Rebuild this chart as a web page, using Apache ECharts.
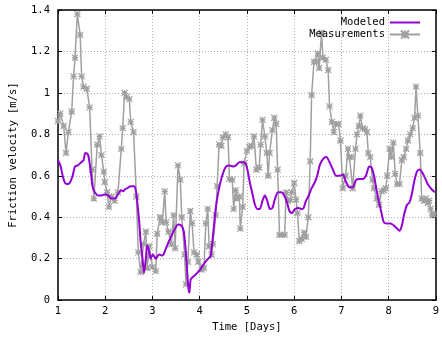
<!DOCTYPE html>
<html><head><meta charset="utf-8">
<script src="https://cdn.jsdelivr.net/npm/echarts@6/dist/echarts.min.js"></script>
<style>html,body{margin:0;padding:0;background:#fff}#c{width:442px;height:338px}</style>
</head><body><div id="c"></div>
<script>
const measX = [1.0,1.05,1.12,1.17,1.22,1.29,1.33,1.36,1.41,1.47,1.50,1.54,1.61,1.67,1.72,1.76,1.83,1.88,1.92,1.97,1.99,2.04,2.08,2.13,2.20,2.27,2.34,2.37,2.41,2.45,2.51,2.54,2.60,2.66,2.70,2.75,2.81,2.86,2.89,2.93,3.00,3.07,3.10,3.16,3.21,3.26,3.29,3.34,3.40,3.45,3.48,3.54,3.59,3.62,3.68,3.71,3.75,3.80,3.84,3.88,3.94,3.97,4.04,4.09,4.13,4.17,4.20,4.25,4.28,4.34,4.37,4.41,4.46,4.49,4.55,4.60,4.63,4.69,4.72,4.76,4.79,4.84,4.86,4.91,4.94,5.00,5.05,5.10,5.15,5.20,5.26,5.29,5.33,5.38,5.42,5.45,5.48,5.54,5.58,5.62,5.65,5.69,5.74,5.80,5.83,5.87,5.92,5.95,6.00,6.04,6.07,6.11,6.16,6.21,6.25,6.30,6.34,6.37,6.42,6.46,6.50,6.53,6.58,6.61,6.67,6.72,6.75,6.80,6.84,6.89,6.94,6.98,7.03,7.09,7.14,7.17,7.21,7.24,7.30,7.33,7.37,7.40,7.45,7.50,7.54,7.57,7.61,7.66,7.69,7.75,7.80,7.85,7.90,7.94,7.97,8.02,8.06,8.10,8.14,8.18,8.23,8.28,8.32,8.37,8.41,8.46,8.51,8.55,8.58,8.62,8.67,8.70,8.75,8.79,8.83,8.86,8.89,8.92,8.96];
const measY = [0.864,0.90,0.84,0.71,0.81,0.91,1.08,1.17,1.38,1.28,1.08,1.03,1.02,0.93,0.63,0.49,0.75,0.79,0.70,0.62,0.57,0.52,0.45,0.50,0.48,0.52,0.73,0.83,1.00,0.98,0.97,0.86,0.81,0.50,0.23,0.135,0.27,0.33,0.155,0.26,0.16,0.14,0.32,0.40,0.375,0.525,0.375,0.33,0.27,0.41,0.25,0.65,0.58,0.40,0.22,0.076,0.185,0.43,0.37,0.23,0.22,0.185,0.147,0.155,0.37,0.44,0.26,0.22,0.27,0.41,0.55,0.75,0.745,0.785,0.80,0.785,0.585,0.58,0.44,0.53,0.49,0.50,0.345,0.45,0.66,0.72,0.74,0.745,0.79,0.63,0.64,0.75,0.87,0.79,0.71,0.60,0.71,0.82,0.88,0.85,0.63,0.315,0.315,0.315,0.52,0.48,0.485,0.52,0.565,0.485,0.42,0.285,0.295,0.325,0.305,0.40,0.67,0.99,1.15,1.15,1.19,1.12,1.29,1.17,1.16,1.11,0.935,0.86,0.81,0.85,0.85,0.77,0.54,0.60,0.73,0.69,0.69,0.54,0.73,0.80,0.84,0.89,0.83,0.825,0.81,0.71,0.69,0.58,0.54,0.49,0.46,0.525,0.53,0.54,0.60,0.73,0.69,0.76,0.61,0.56,0.56,0.675,0.69,0.73,0.77,0.80,0.83,0.88,1.03,0.89,0.71,0.49,0.48,0.49,0.47,0.48,0.44,0.41,0.415];
const modX = [1.0,1.05,1.10,1.15,1.21,1.26,1.31,1.36,1.42,1.49,1.54,1.58,1.63,1.66,1.70,1.73,1.78,1.85,1.92,1.99,2.06,2.13,2.20,2.27,2.34,2.38,2.42,2.47,2.54,2.61,2.65,2.68,2.72,2.75,2.79,2.82,2.86,2.89,2.93,2.96,3.01,3.07,3.14,3.21,3.27,3.34,3.41,3.48,3.54,3.61,3.66,3.70,3.73,3.76,3.78,3.81,3.85,3.92,4.01,4.09,4.18,4.23,4.28,4.35,4.42,4.49,4.56,4.63,4.70,4.77,4.84,4.91,4.97,5.01,5.06,5.12,5.17,5.22,5.27,5.33,5.38,5.43,5.49,5.54,5.59,5.66,5.73,5.80,5.85,5.90,5.95,6.02,6.09,6.15,6.20,6.25,6.30,6.37,6.44,6.50,6.54,6.61,6.68,6.75,6.82,6.89,6.96,7.03,7.10,7.17,7.24,7.31,7.38,7.45,7.52,7.59,7.64,7.69,7.75,7.80,7.85,7.90,7.97,8.04,8.11,8.18,8.23,8.28,8.33,8.39,8.44,8.49,8.54,8.60,8.66,8.70,8.77,8.84,8.91,8.98];
const modY = [0.675,0.65,0.60,0.565,0.56,0.57,0.60,0.645,0.65,0.665,0.675,0.71,0.705,0.675,0.61,0.55,0.52,0.505,0.505,0.51,0.505,0.49,0.49,0.51,0.53,0.525,0.535,0.54,0.55,0.55,0.525,0.47,0.375,0.28,0.20,0.13,0.20,0.265,0.235,0.20,0.22,0.20,0.22,0.215,0.24,0.28,0.315,0.345,0.365,0.36,0.335,0.25,0.155,0.06,0.036,0.10,0.11,0.125,0.147,0.175,0.20,0.21,0.31,0.46,0.55,0.61,0.645,0.65,0.645,0.65,0.665,0.665,0.66,0.63,0.57,0.51,0.46,0.44,0.44,0.48,0.505,0.48,0.44,0.445,0.485,0.52,0.52,0.50,0.47,0.43,0.42,0.44,0.445,0.44,0.445,0.48,0.50,0.54,0.57,0.61,0.65,0.68,0.69,0.665,0.63,0.60,0.60,0.605,0.57,0.545,0.545,0.58,0.585,0.585,0.60,0.645,0.64,0.60,0.525,0.47,0.42,0.375,0.37,0.37,0.36,0.345,0.335,0.36,0.415,0.46,0.47,0.51,0.57,0.62,0.63,0.62,0.59,0.555,0.535,0.52];
const xTicks = [1,2,3,4,5,6,7,8,9];
const yTicks = [0,0.2,0.4,0.6,0.8,1,1.2,1.4];

const pair = (xs, ys) => xs.map((x, i) => [x, ys[i]]);
const FONT = '"DejaVu Sans Mono", monospace';
const star = 'path://M0,0L10,10M10,0L0,10M5,0L5,10M0,5L10,5';

const chart = echarts.init(document.getElementById('c'), null, {renderer: 'canvas'});
const gridLine = {show: true, lineStyle: {color: '#b0b0b0', type: [1, 2], width: 1}};
chart.setOption({
  animation: false,
  backgroundColor: '#fff',
  grid: {left: 53, right: 6, top: 10, bottom: 32, containLabel: false},
  legend: {
    orient: 'vertical', right: 16, top: 12, align: 'right',
    itemWidth: 30, itemHeight: 10, itemGap: 1,
    textStyle: {fontFamily: FONT, fontSize: 10.5, color: '#000', padding: [0, 0, 0, 0]},
    data: [
      {name: 'Modeled', icon: 'path://M0,4L30,4L30,6L0,6Z'},
      {name: 'Measurements'}
    ]
  },
  xAxis: [{
    type: 'value', min: 1, max: 9, interval: 1,
    name: 'Time [Days]', nameLocation: 'middle', nameGap: 17,
    nameTextStyle: {fontFamily: FONT, fontSize: 10.5, color: '#000'},
    axisLine: {show: true, onZero: false, lineStyle: {color: '#000', width: 1.5}},
    axisTick: {show: true, inside: true, length: 4, lineStyle: {color: '#000', width: 1}},
    axisLabel: {fontFamily: FONT, fontSize: 10.5, color: '#000', margin: 6,
      formatter: v => xTicks.includes(v) ? String(v) : ''},
    splitLine: gridLine
  }, {
    type: 'value', min: 1, max: 9, interval: 1, position: 'top',
    axisLine: {show: true, onZero: false, lineStyle: {color: '#000', width: 1.5}},
    axisTick: {show: true, inside: true, length: 4, lineStyle: {color: '#000', width: 1}},
    axisLabel: {show: false}, splitLine: {show: false}
  }],
  yAxis: [{
    type: 'value', min: 0, max: 1.4, interval: 0.2,
    name: 'Friction velocity [m/s]', nameLocation: 'middle', nameGap: 39,
    nameTextStyle: {fontFamily: FONT, fontSize: 10.5, color: '#000'},
    axisLine: {show: true, onZero: false, lineStyle: {color: '#000', width: 1.5}},
    axisTick: {show: true, inside: true, length: 4, lineStyle: {color: '#000', width: 1}},
    axisLabel: {fontFamily: FONT, fontSize: 10.5, color: '#000', margin: 8,
      formatter: v => { const t = yTicks.find(k => Math.abs(k - v) < 1e-6); return t === undefined ? '' : String(t); }},
    splitLine: gridLine
  }, {
    type: 'value', min: 0, max: 1.4, interval: 0.2, position: 'right',
    axisLine: {show: true, onZero: false, lineStyle: {color: '#000', width: 1.5}},
    axisTick: {show: true, inside: true, length: 4, lineStyle: {color: '#000', width: 1}},
    axisLabel: {show: false}, splitLine: {show: false}
  }],
  series: [{
    name: 'Measurements', type: 'line', data: pair(measX, measY),
    symbol: star, symbolSize: 6, showSymbol: true,
    lineStyle: {color: '#a0a0a0', width: 1.5},
    itemStyle: {color: '#a0a0a0', borderColor: '#a0a0a0', borderWidth: 1.2},
    z: 2
  }, {
    name: 'Modeled', type: 'line', data: pair(modX, modY),
    symbol: 'none', smooth: 0.3,
    lineStyle: {color: '#9400d3', width: 2},
    itemStyle: {color: '#9400d3'},
    z: 3
  }]
});
</script></body></html>
